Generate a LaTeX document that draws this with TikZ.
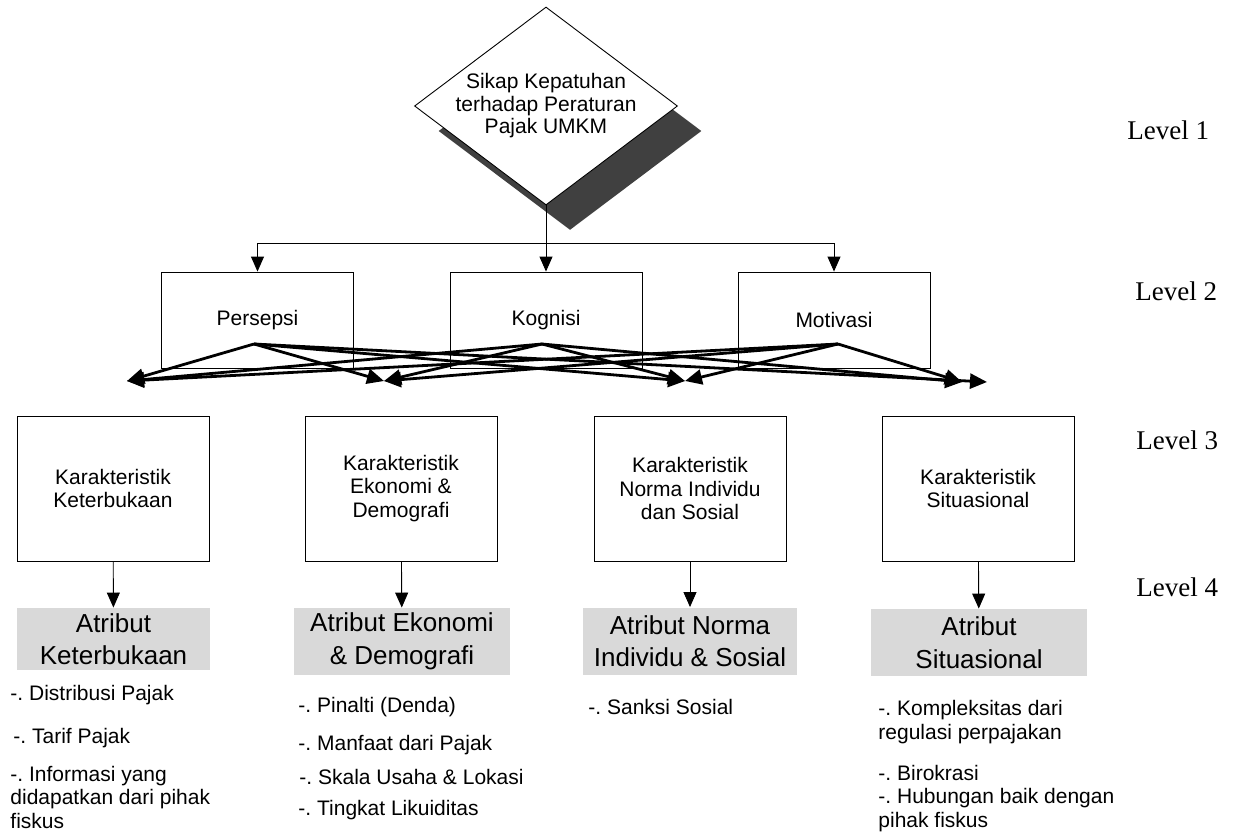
\documentclass[tikz,border=0pt]{standalone}
\usepackage{fontspec}
\setmainfont{Liberation Sans}
\newfontfamily\levelfont{Liberation Serif}
\usetikzlibrary{shapes.geometric}
\usetikzlibrary{shadows}
\usetikzlibrary{arrows.meta}
\frenchspacing

\begin{document}
\begin{tikzpicture}
  [
    x=1pt, y=-1pt,
    line width=0.9pt,
    >={Triangle[length=15pt, width=13pt]},
    every node/.style={font=\fontsize{21}{23.5}\selectfont},
    rootbox/.style = {draw, diamond, fill=white, minimum width=263pt, minimum height=198pt, inner sep=0pt,
                      drop shadow={shadow xshift=24pt, shadow yshift=-25pt, fill=black!75, opacity=1}},
    crit/.style    = {draw, rectangle, minimum width=192pt, minimum height=96pt, inner sep=0pt, align=center},
    sub/.style     = {crit, minimum height=145pt},
    attr/.style    = {rectangle, fill=black!15, minimum height=67pt, inner sep=0pt, align=center,
                      font=\fontsize{26}{32.5}\selectfont},
    item/.style    = {anchor=west, align=left, inner sep=0pt},
    levelname/.style = {anchor=west, inner sep=0pt, font=\levelfont\fontsize{27}{30}\selectfont},
    crossarrow/.style = {->, line width=2.8pt, >={Triangle[length=17pt, width=15pt]}},
  ]

  \useasboundingbox (0,0) rectangle (1236,836);

  % the diamond on top
  \node (goal) at (546,106) [rootbox] {};
  \node (goaltext) at (goal.center) [align=center, font=\fontsize{21}{22.5}\selectfont]
    {Sikap Kepatuhan\\terhadap Peraturan\\Pajak UMKM};

  % level 2
  \node (persepsi) at (257.5,320) [crit] {Persepsi};
  \node (kognisi)  at (546,320)   [crit] {Kognisi};
  \node (motivasi) at (834,320)   [crit] {Motivasi};

  \coordinate (split) at (546,243);
  \draw[->] (goal.south) -- (kognisi.north);
  \draw[->] (split) -| (persepsi.north);
  \draw[->] (split) -| (motivasi.north);

  % level 3
  \node (kketer) at (113,488.5) [sub] {Karakteristik\\Keterbukaan};
  \node (kekon)  at (401,488.5) [sub] {Karakteristik\\Ekonomi \&\\Demografi};
  \node (knorma) at (690,488.5) [sub] {Karakteristik\\Norma Individu\\dan Sosial};
  \node (ksitu)  at (978,488.5) [sub] {Karakteristik\\Situasional};

  % every level 2 item points to every level 3 item
  \coordinate (persepsi-out) at (254,344);
  \coordinate (kognisi-out)  at (542,344);
  \coordinate (motivasi-out) at (838,344);
  \coordinate (t1)  at (127,381);
  \coordinate (t2)  at (384,381);
  \coordinate (t3)  at (685,381);
  \coordinate (t4)  at (962,382);
  \coordinate (t4b) at (987,382);

  \foreach \src/\dst in {persepsi-out/t1, persepsi-out/t2, persepsi-out/t3, persepsi-out/t4b,
                         kognisi-out/t1, kognisi-out/t2, kognisi-out/t3, kognisi-out/t4,
                         motivasi-out/t1, motivasi-out/t2, motivasi-out/t3, motivasi-out/t4}
    \draw[crossarrow] (\src) -- (\dst);

  % level 4
  \node (aketer) at (113.5,639) [attr, minimum width=193pt, minimum height=62pt] {Atribut\\Keterbukaan};
  \node (aekon)  at (402,641.5) [attr, minimum width=216pt] {Atribut Ekonomi\\\& Demografi};
  \node (anorma) at (690,641)   [attr, minimum width=214pt] {Atribut Norma\\Individu \& Sosial};
  \node (asitu)  at (979,642.5) [attr, minimum width=216pt] {Atribut\\Situasional};

  \foreach \a/\b in {kketer/aketer, kekon/aekon, knorma/anorma, ksitu/asitu}
    \draw[->] (\a) -- (\b);

  % attribute lists
  \node (ketr1) at (10,695)  [item] {-. Distribusi Pajak};
  \node (ketr2) at (13,738)  [item] {-. Tarif Pajak};
  \node (ketr3) at (10,797)  [item] {-. Informasi yang\\didapatkan dari pihak\\fiskus};

  \node (ekon1) at (298,707) [item] {-. Pinalti (Denda)};
  \node (ekon2) at (298,745) [item] {-. Manfaat dari Pajak};
  \node (ekon3) at (299,777) [item] {-. Skala Usaha \& Lokasi};
  \node (ekon4) at (298,810) [item] {-. Tingkat Likuiditas};

  \node (norm1) at (588,707) [item] {-. Sanksi Sosial};

  \node (situ1) at (878,722) [item] {-. Kompleksitas dari\\regulasi perpajakan};
  \node (situ2) at (878,773) [item] {-. Birokrasi};
  \node (situ3) at (878,810) [item] {-. Hubungan baik dengan\\pihak fiskus};

  % level labels
  \node (lvl1) at (1127,130) [levelname] {Level 1};
  \node (lvl2) at (1135,291) [levelname] {Level 2};
  \node (lvl3) at (1136,440) [levelname] {Level 3};
  \node (lvl4) at (1136,587) [levelname] {Level 4};

\end{tikzpicture}
\end{document}
